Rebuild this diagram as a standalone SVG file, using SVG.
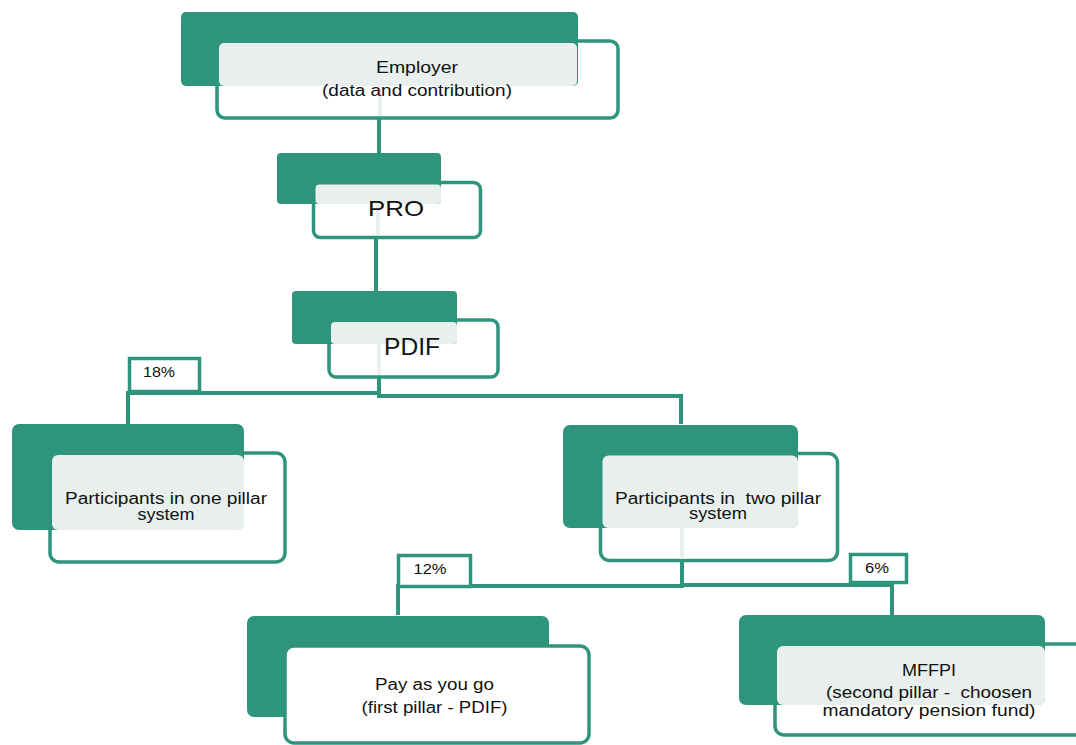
<svg xmlns="http://www.w3.org/2000/svg" width="1076" height="745" viewBox="0 0 1076 745">
<defs>
<style>
.bg{fill:#ffffff}
.solid{fill:#2f947c}
.frame{fill:#ffffff;stroke:#2f947c;stroke-width:3.5}
.light{fill:#e8efec}
.con{fill:none;stroke:#2f947c;stroke-width:4}
.trace{fill:none;stroke:#e8efec;stroke-width:4}
.lbl{fill:#ffffff;stroke:#2f947c;stroke-width:3.5}
text{font-family:"Liberation Sans",Arial,sans-serif;fill:#111111;text-anchor:middle}
.t16{font-size:16px}
.t14{font-size:14px}
.big{font-size:22px}
</style>
</defs>
<rect class="bg" x="0" y="0" width="1076" height="745"/>
<g id="connectors">
<path class="con" d="M379 118 V153"/>
<path class="con" d="M376 237 V291"/>
<path class="con" d="M379 378 V396 H681 V424"/>
<path class="con" d="M379 393 H128 V424"/>
<path class="con" d="M682 562 V586 H398 V615"/>
<path class="con" d="M682 585 H892 V615"/>
</g>
<g id="employer">
<rect class="frame" x="217" y="41" width="401" height="77" rx="8"/>
<rect class="solid" x="181" y="12" width="397" height="74" rx="5"/>
<rect class="light" x="219" y="43" width="358" height="43" rx="5"/>
<path class="trace" d="M380 86 V116"/>
<text class="t16" x="417" y="73" textLength="82" lengthAdjust="spacingAndGlyphs">Employer</text>
<text class="t16" x="417" y="96" textLength="190" lengthAdjust="spacingAndGlyphs">(data and contribution)</text>
</g>
<g id="pro">
<rect class="frame" x="313.5" y="182.5" width="167" height="55" rx="7"/>
<rect class="solid" x="277" y="153" width="164" height="51" rx="4"/>
<rect class="light" x="315.5" y="184.5" width="125.5" height="19.5" rx="4"/>
<path class="trace" d="M378 204 V235"/>
<text class="big" x="396" y="216" textLength="56" lengthAdjust="spacingAndGlyphs">PRO</text>
</g>
<g id="pdif">
<rect class="frame" x="329" y="320" width="169" height="57" rx="7"/>
<rect class="solid" x="292" y="291" width="165" height="53" rx="4"/>
<rect class="light" x="331" y="322" width="126" height="22" rx="4"/>
<path class="trace" d="M379 344 V375"/>
<text class="big" x="412" y="355" style="font-size:23px" textLength="56" lengthAdjust="spacingAndGlyphs">PDIF</text>
</g>
<g id="one-pillar">
<rect class="frame" x="50" y="453" width="235" height="109" rx="9"/>
<rect class="solid" x="12" y="424" width="232" height="106" rx="7"/>
<rect class="light" x="52" y="455" width="192" height="75" rx="6"/>
<text class="t16" x="166" y="504" textLength="202" lengthAdjust="spacingAndGlyphs">Participants in one pillar</text>
<text class="t16" x="166" y="520" textLength="57" lengthAdjust="spacingAndGlyphs">system</text>
</g>
<g id="two-pillar">
<rect class="frame" x="600.5" y="453.5" width="237" height="107" rx="9"/>
<rect class="solid" x="563" y="425" width="235" height="103" rx="7"/>
<rect class="light" x="602.5" y="455.5" width="195.5" height="72.5" rx="6"/>
<path class="trace" d="M682 528 V559"/>
<text class="t16" x="718" y="504" textLength="206" lengthAdjust="spacingAndGlyphs" xml:space="preserve">Participants in  two pillar</text>
<text class="t16" x="718" y="519" textLength="58" lengthAdjust="spacingAndGlyphs">system</text>
</g>
<g id="pay-as-you-go">
<rect class="solid" x="247" y="616" width="302" height="101" rx="7"/>
<rect class="frame" x="285" y="646" width="304" height="97" rx="9"/>
<text class="t16" x="434.5" y="690" textLength="119" lengthAdjust="spacingAndGlyphs">Pay as you go</text>
<text class="t16" x="434.5" y="713" textLength="146" lengthAdjust="spacingAndGlyphs">(first pillar - PDIF)</text>
</g>
<g id="mffpi">
<rect class="frame" x="775" y="644" width="320" height="91" rx="9"/>
<rect class="solid" x="739" y="615" width="306" height="90" rx="7"/>
<rect class="light" x="777" y="646" width="268" height="59" rx="6"/>
<text class="t16" x="929" y="676" textLength="54" lengthAdjust="spacingAndGlyphs">MFFPI</text>
<text class="t16" x="929" y="698" textLength="206" lengthAdjust="spacingAndGlyphs" xml:space="preserve">(second pillar -  choosen</text>
<text class="t16" x="929" y="716" textLength="213" lengthAdjust="spacingAndGlyphs">mandatory pension fund)</text>
</g>
<g id="label-18">
<rect class="lbl" x="129.5" y="358.5" width="70" height="33"/>
<text class="t14" x="159" y="377" textLength="32" lengthAdjust="spacingAndGlyphs">18%</text>
</g>
<g id="label-12">
<rect class="lbl" x="398.5" y="555.5" width="72" height="31"/>
<text class="t14" x="430" y="574" textLength="33" lengthAdjust="spacingAndGlyphs">12%</text>
</g>
<g id="label-6">
<rect class="lbl" x="850.5" y="554.5" width="56" height="28"/>
<text class="t14" x="877" y="573" textLength="24" lengthAdjust="spacingAndGlyphs">6%</text>
</g>
</svg>
